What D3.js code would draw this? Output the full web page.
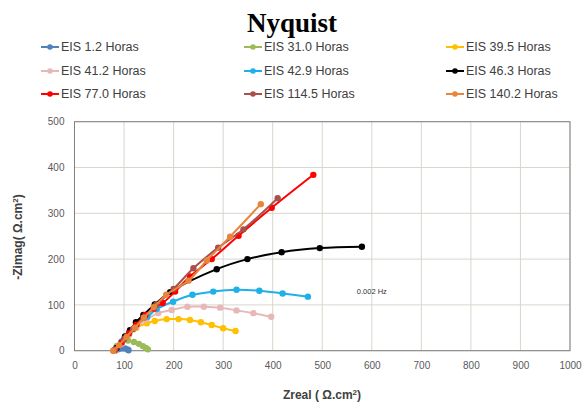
<!DOCTYPE html>
<html><head><meta charset="utf-8">
<script src="https://cdn.jsdelivr.net/npm/d3@7"></script>
<style>body{margin:0;background:#fff}svg{display:block}</style>
</head><body>
<script>
const seriesNames = ["EIS 1.2 Horas","EIS 31.0 Horas","EIS 39.5 Horas","EIS 41.2 Horas","EIS 42.9 Horas","EIS 46.3 Horas","EIS 77.0 Horas","EIS 114.5 Horas","EIS 140.2 Horas"];
const seriesColors = ["#4f81bd","#9bbb59","#ffc000","#e6b9b8","#1fb0e8","#000000","#ff0000","#a8504c","#e8853a"];
const s1_2 = [[82,0],[88,3],[95,5],[102,5],[107,3],[109,1]];
const s31_0 = [[80,0],[85,10],[95,19],[108,22],[120,19],[130,15],[138,10],[144,6],[148,3]];
const s39_5 = [[82,0],[95,18],[110,35],[125,50],[146,60],[162,65],[186,69],[210,69],[233,67],[255,62],[277,56],[300,49],[325,43]];
const s41_2 = [[82,0],[95,15],[110,35],[125,52],[145,68],[169,82],[196,89],[228,96],[261,96],[294,94],[327,88],[361,82],[397,74]];
const s42_9 = [[80,1],[95,20],[110,40],[125,57],[147,74],[166,91],[199,107],[238,122],[280,129],[327,133],[373,131],[420,125],[471,118]];
const s46_3 = [[85,6],[102,31],[112,45],[124,62],[139,78],[162,101],[193,128],[287,178],[349,200],[418,215],[495,224],[580,227]];
const s77_0 = [[82,2],[95,18],[110,38],[125,57],[143,78],[160,92],[178,104],[203,129],[233,162],[277,200],[331,251],[398,312],[482,384]];
const s114_5 = [[82,3],[100,25],[118,47],[140,72],[165,100],[200,135],[240,180],[290,225],[341,265],[410,333]];
const s140_2 = [[78,0],[90,12],[105,30],[122,50],[140,72],[160,95],[185,122],[230,153],[267,197],[314,249],[376,320]];
const seriesData = [s1_2,s31_0,s39_5,s41_2,s42_9,s46_3,s77_0,s114_5,s140_2];
const xTicks = [0,100,200,300,400,500,600,700,800,900,1000];
const yTicks = [0,100,200,300,400,500];
const annotation = {text:"0.002 Hz", x:600, y:129};

const W=584,H=405;
const svg=d3.select("body").append("svg").attr("width",W).attr("height",H);
const x=d3.scaleLinear().domain([0,1000]).range([74.5,570]);
const y=d3.scaleLinear().domain([0,500]).range([350.7,121.7]);

// gridlines
svg.append("g").selectAll("line.v").data(xTicks).join("line")
  .attr("x1",d=>x(d)).attr("x2",d=>x(d)).attr("y1",y(0)).attr("y2",y(500))
  .attr("stroke","#d9d6cc").attr("stroke-width",1);
svg.append("g").selectAll("line.h").data(yTicks).join("line")
  .attr("x1",x(0)).attr("x2",x(1000)).attr("y1",d=>y(d)).attr("y2",d=>y(d))
  .attr("stroke","#d9d6cc").attr("stroke-width",1);
svg.append("rect").attr("x",x(0)).attr("y",y(500)).attr("width",x(1000)-x(0)).attr("height",y(0)-y(500))
  .attr("fill","none").attr("stroke","#808080").attr("stroke-width",1);

// axes
const xAxis=svg.append("g").attr("transform",`translate(0,${y(0)})`)
  .call(d3.axisBottom(x).tickValues(xTicks).tickFormat(d3.format("d")).tickSize(0).tickPadding(11));
xAxis.select(".domain").remove();
xAxis.selectAll("text").attr("font-family","Liberation Sans, Arial").attr("font-size","10px").attr("fill","#595959");
const yAxis=svg.append("g").attr("transform",`translate(${x(0)},0)`)
  .call(d3.axisLeft(y).tickValues(yTicks).tickFormat(d3.format("d")).tickSize(0).tickPadding(10));
yAxis.select(".domain").remove();
yAxis.selectAll("text").attr("font-family","Liberation Sans, Arial").attr("font-size","10px").attr("fill","#595959");

// series
const line=d3.line().x(d=>x(d[0])).y(d=>y(d[1])).curve(d3.curveCatmullRom.alpha(0.5));
seriesData.forEach((data,i)=>{
  const g=svg.append("g");
  g.append("path").attr("d",line(data)).attr("fill","none").attr("stroke",seriesColors[i]).attr("stroke-width",2);
  g.selectAll("circle").data(data).join("circle").attr("cx",d=>x(d[0])).attr("cy",d=>y(d[1])).attr("r",3.2).attr("fill",seriesColors[i]);
});

svg.append("text").attr("x",x(annotation.x)).attr("y",y(annotation.y)).attr("text-anchor","middle").attr("dominant-baseline","middle")
  .attr("font-family","Liberation Sans, Arial").attr("font-size","7.5px").attr("fill","#333").text(annotation.text);

// title
svg.append("text").attr("x",292).attr("y",32).attr("text-anchor","middle")
  .attr("font-family","Liberation Serif, Times New Roman, serif").attr("font-weight","bold").attr("font-size","27px").attr("fill","#000").text("Nyquist");

// legend
const colX=[41,244,446], rowY=[47,71,94];
seriesNames.forEach((n,i)=>{
  const cx=colX[i%3], cy=rowY[Math.floor(i/3)];
  svg.append("line").attr("x1",cx).attr("x2",cx+18).attr("y1",cy).attr("y2",cy).attr("stroke",seriesColors[i]).attr("stroke-width",2);
  svg.append("circle").attr("cx",cx+9).attr("cy",cy).attr("r",2.8).attr("fill",seriesColors[i]);
  svg.append("text").attr("x",cx+20).attr("y",cy).attr("dominant-baseline","central")
    .attr("font-family","Liberation Sans, Arial").attr("font-size","12.5px").attr("fill","#404040").text(n);
});

// axis titles
const xt=svg.append("text").attr("x",322).attr("y",399).attr("text-anchor","middle")
  .attr("font-family","Liberation Sans, Arial").attr("font-weight","bold").attr("font-size","12px").attr("fill","#404040");
xt.append("tspan").text("Zreal ( Ω.cm");
xt.append("tspan").attr("dy",-4).attr("font-size","8px").text("2");
xt.append("tspan").attr("dy",4).text(")");
const yt=svg.append("text").attr("transform","translate(22,237) rotate(-90)").attr("text-anchor","middle")
  .attr("font-family","Liberation Sans, Arial").attr("font-weight","bold").attr("font-size","12px").attr("fill","#404040");
yt.append("tspan").text("-Zimag( Ω.cm");
yt.append("tspan").attr("dy",-4).attr("font-size","8px").text("2");
yt.append("tspan").attr("dy",4).text(")");
</script>
</body></html>
